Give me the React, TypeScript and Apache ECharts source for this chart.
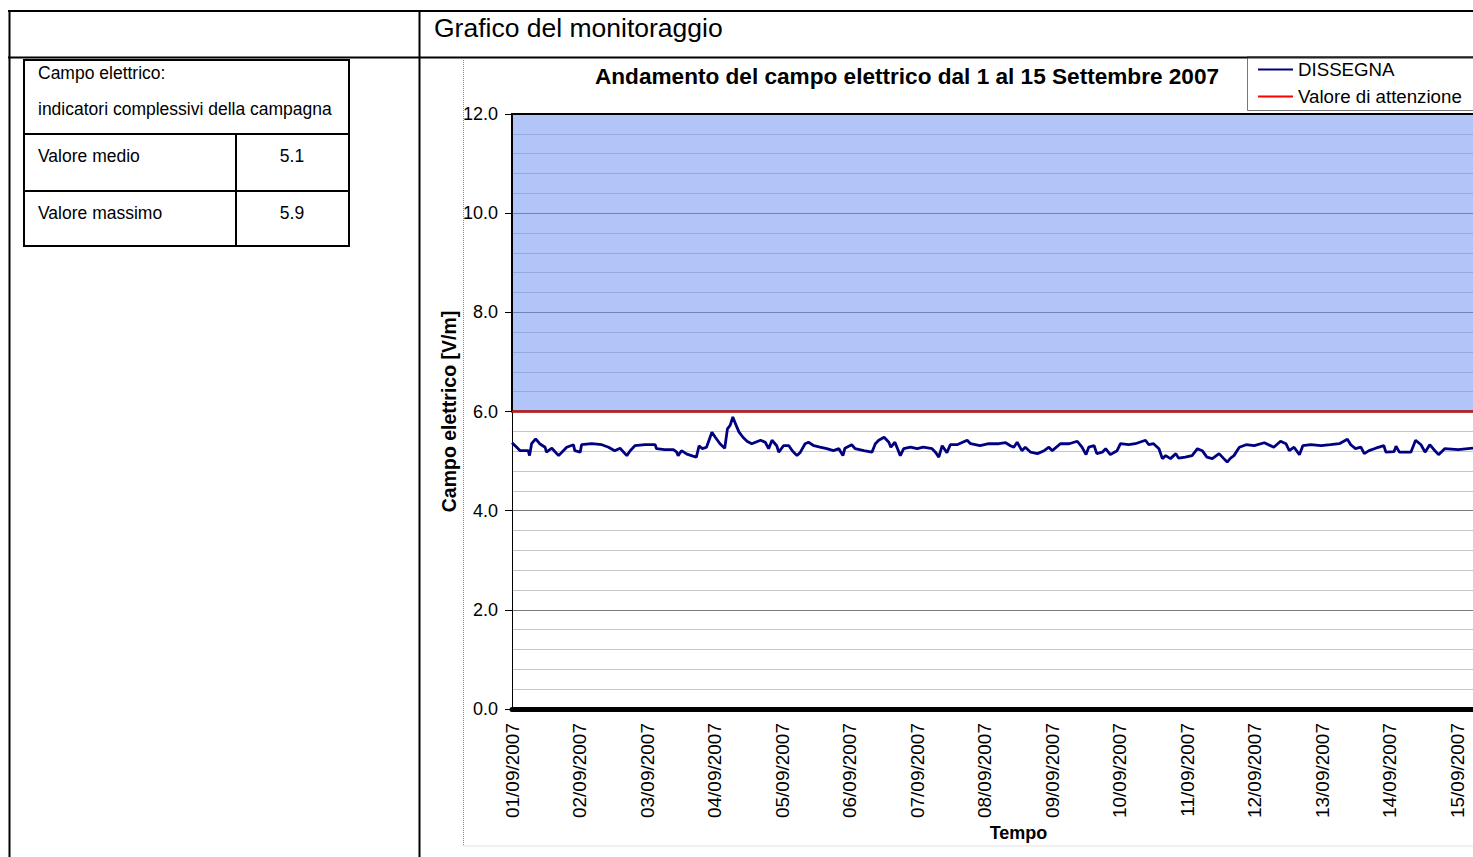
import React, { useEffect, useRef } from "react";
import * as echarts from "echarts";

const dateLabels = [
  "01/09/2007", "02/09/2007", "03/09/2007", "04/09/2007", "05/09/2007",
  "06/09/2007", "07/09/2007", "08/09/2007", "09/09/2007", "10/09/2007",
  "11/09/2007", "12/09/2007", "13/09/2007", "14/09/2007", "15/09/2007",
  "16/09/2007",
];

// time in days from 01/09/2007 00:00
const timeDays = [
  0.00, 0.07, 0.12, 0.24, 0.26, 0.29, 0.35, 0.41, 0.49, 0.51, 0.59, 0.69, 0.76, 0.81, 0.91, 0.93,
  1.01, 1.03, 1.18, 1.33, 1.43, 1.52, 1.60, 1.70, 1.75, 1.82, 1.97,
  2.12, 2.14, 2.26, 2.39, 2.44, 2.46, 2.51, 2.59, 2.68, 2.73, 2.77, 2.82, 2.88, 2.96,
  3.01, 3.08, 3.15, 3.19, 3.23, 3.27, 3.31, 3.36, 3.42, 3.48, 3.55, 3.68, 3.75, 3.80, 3.85, 3.92, 3.95,
  4.02, 4.10, 4.15, 4.22, 4.27, 4.34, 4.39, 4.47, 4.56, 4.66, 4.76, 4.84, 4.90, 4.93,
  5.03, 5.08, 5.21, 5.33, 5.38, 5.43, 5.51, 5.58, 5.61, 5.67, 5.75, 5.80, 5.90,
  6.00, 6.09, 6.22, 6.27, 6.32, 6.37, 6.44, 6.49, 6.59, 6.74, 6.79, 6.93,
  7.06, 7.21, 7.31, 7.38, 7.43, 7.48, 7.55, 7.60, 7.68, 7.78, 7.88, 7.95,
  8.00, 8.12, 8.25, 8.37, 8.44, 8.50, 8.54, 8.62, 8.66, 8.74, 8.79, 8.86, 8.96,
  9.01, 9.13, 9.23, 9.38, 9.43, 9.50, 9.58, 9.63, 9.68, 9.75, 9.83, 9.87, 9.97,
  10.07, 10.15, 10.22, 10.29, 10.37, 10.47, 10.54, 10.59, 10.64, 10.69, 10.77, 10.87, 10.99,
  11.14, 11.28, 11.38, 11.46, 11.51, 11.58, 11.66, 11.71, 11.83, 11.98,
  12.12, 12.25, 12.37, 12.42, 12.49, 12.57, 12.62, 12.69, 12.79, 12.91, 12.94,
  13.06, 13.09, 13.14, 13.31, 13.38, 13.46, 13.52, 13.59, 13.64, 13.72, 13.81,
  14.01, 14.23,
];

const dissegnaValues = [
  5.37, 5.28, 5.21, 5.21, 5.11, 5.35, 5.45, 5.35, 5.28, 5.18, 5.26, 5.11, 5.21, 5.28, 5.33, 5.21,
  5.18, 5.33, 5.35, 5.33, 5.28, 5.21, 5.26, 5.11, 5.21, 5.31, 5.33,
  5.33, 5.25, 5.23, 5.23, 5.18, 5.11, 5.21, 5.14, 5.10, 5.08, 5.31, 5.25, 5.28, 5.58,
  5.48, 5.35, 5.26, 5.65, 5.72, 5.89, 5.75, 5.59, 5.48, 5.40, 5.35, 5.42, 5.38, 5.25, 5.42, 5.31, 5.18,
  5.31, 5.31, 5.21, 5.11, 5.18, 5.35, 5.38, 5.31, 5.28, 5.25, 5.21, 5.25, 5.11, 5.26,
  5.33, 5.25, 5.21, 5.18, 5.35, 5.42, 5.48, 5.38, 5.28, 5.38, 5.11, 5.25, 5.28,
  5.25, 5.28, 5.25, 5.18, 5.08, 5.31, 5.17, 5.33, 5.33, 5.42, 5.35, 5.31,
  5.35, 5.35, 5.37, 5.31, 5.28, 5.38, 5.21, 5.28, 5.18, 5.15, 5.21, 5.28,
  5.21, 5.35, 5.35, 5.40, 5.28, 5.13, 5.28, 5.31, 5.15, 5.18, 5.25, 5.13, 5.21,
  5.35, 5.33, 5.35, 5.42, 5.33, 5.35, 5.25, 5.05, 5.11, 5.05, 5.15, 5.06, 5.08,
  5.11, 5.25, 5.21, 5.08, 5.05, 5.15, 5.05, 4.98, 5.06, 5.11, 5.28, 5.33, 5.31,
  5.37, 5.28, 5.40, 5.35, 5.21, 5.28, 5.13, 5.31, 5.33, 5.31,
  5.33, 5.35, 5.44, 5.33, 5.25, 5.28, 5.15, 5.21, 5.26, 5.31, 5.18,
  5.19, 5.30, 5.18, 5.18, 5.42, 5.33, 5.18, 5.33, 5.25, 5.13, 5.25,
  5.23, 5.26,
];

const attentionValue = 6;
const yMin = 0;
const yMax = 12;
const yInterval = 2;
const dayMax = 15;

const summaryTitle = ["Campo elettrico:", "indicatori complessivi della campagna"];
const summaryLabels = ["Valore medio", "Valore massimo"];
const summaryValues = ["5.1", "5.9"];

const FONT = "'Liberation Sans', Arial, sans-serif";

function hLine(x1: number, x2: number, y: number, w = 2, color = "#000") {
  return { type: "line", silent: true, shape: { x1, y1: y, x2, y2: y }, style: { stroke: color, lineWidth: w } };
}
function vLine(x: number, y1: number, y2: number, w = 2, color = "#000", dash?: number[]) {
  return { type: "line", silent: true, shape: { x1: x, y1, x2: x, y2 }, style: { stroke: color, lineWidth: w, lineDash: dash } };
}
function txt(text: string, x: number, y: number, size: number, align = "left", bold = false) {
  return {
    type: "text",
    silent: true,
    x,
    y,
    style: {
      text,
      fill: "#000",
      font: `${bold ? "bold " : ""}${size}px ${FONT}`,
      textAlign: align,
      textVerticalAlign: "middle",
      align,
      verticalAlign: "middle",
    },
  };
}

export default function App() {
  const ref = useRef<HTMLDivElement>(null);

  useEffect(() => {
    if (!ref.current) return;
    const chart = echarts.init(ref.current, null, { renderer: "svg" });

    const lineData = timeDays.map((d, i) => [d, dissegnaValues[i]]);

    const graphics: any[] = [
      // page table
      hLine(8, 1600, 11),
      hLine(8, 1600, 57.5),
      vLine(9.5, 10, 857),
      vLine(419.5, 10, 857),
      txt("Grafico del monitoraggio", 434, 28, 26.5),
      // summary table
      { type: "rect", silent: true, shape: { x: 24, y: 60, width: 325, height: 186 }, style: { fill: "none", stroke: "#000", lineWidth: 2 } },
      hLine(24, 349, 134),
      hLine(24, 349, 191),
      vLine(236, 134, 246),
      txt(summaryTitle[0], 38, 73, 17.5),
      txt(summaryTitle[1], 38, 109, 17.5),
      txt(summaryLabels[0], 38, 156, 17.5),
      txt(summaryValues[0], 292, 156, 17.5, "center"),
      txt(summaryLabels[1], 38, 213, 17.5),
      txt(summaryValues[1], 292, 213, 17.5, "center"),
      // chart frame
      vLine(463.5, 60, 846, 1, "#888", [1, 1]),
      hLine(463, 1600, 846, 1, "#e2e2e2"),
      // legend box
      { type: "rect", silent: true, shape: { x: 1247.5, y: 57.5, width: 400, height: 53 }, style: { fill: "#fff", stroke: "#777", lineWidth: 1 } },
      hLine(1247, 1600, 57.5, 2, "#222"),
    ];

    chart.setOption({
      animation: false,
      backgroundColor: "#fff",
      title: {
        text: "Andamento del campo elettrico dal 1 al 15 Settembre 2007",
        left: 595,
        top: 65,
        padding: 0,
        textStyle: { fontFamily: FONT, fontSize: 22.6, fontWeight: "bold", color: "#000" },
      },
      legend: {
        left: 1258,
        top: 60,
        padding: 0,
        orient: "vertical",
        itemWidth: 35,
        itemHeight: 2,
        itemGap: 8,
        icon: "rect",
        z: 10,
        textStyle: { fontFamily: FONT, fontSize: 18.7, color: "#000" },
        data: ["DISSEGNA", "Valore di attenzione"],
      },
      graphic: { elements: graphics },
      grid: { left: 512, top: 114, width: 1013, height: 595, containLabel: false },
      xAxis: {
        type: "value",
        min: 0,
        max: dayMax,
        interval: 1,
        offset: 2,
        name: "Tempo",
        nameLocation: "middle",
        nameGap: 113,
        nameMoveOverlap: false,
        nameTextStyle: { fontFamily: FONT, fontSize: 18, fontWeight: "bold", color: "#000" },
        axisLine: { show: true, lineStyle: { color: "#000", width: 5 } },
        axisTick: { show: false },
        splitLine: { show: false },
        axisLabel: {
          rotate: 90,
          margin: 12,
          fontFamily: FONT,
          fontSize: 19,
          color: "#000",
          formatter: (v: number) => dateLabels[Math.round(v)] ?? "",
        },
      },
      yAxis: {
        type: "value",
        min: yMin,
        max: yMax,
        interval: yInterval,
        name: "Campo elettrico [V/m]",
        nameLocation: "middle",
        nameGap: 53,
        nameMoveOverlap: false,
        nameTextStyle: { fontFamily: FONT, fontSize: 19.5, fontWeight: "bold", color: "#000" },
        axisLine: { show: true, lineStyle: { color: "#000", width: 1 } },
        axisTick: { show: true, length: 7, lineStyle: { color: "#000" } },
        axisLabel: {
          margin: 14,
          fontFamily: FONT,
          fontSize: 18,
          color: "#000",
          formatter: (v: number) => v.toFixed(1),
        },
        splitLine: { show: true, lineStyle: { color: "#7a7a7a", width: 1 } },
        minorTick: { show: false, splitNumber: 5 },
        minorSplitLine: { show: true, lineStyle: { color: "#c6c6c6", width: 1 } },
      },
      series: [
        {
          name: "Valore di attenzione",
          type: "line",
          data: [[0, attentionValue], [dayMax, attentionValue]],
          showSymbol: false,
          color: "#ff0000",
          lineStyle: { color: "#ff0000", width: 2 },
          z: 4,
          markArea: {
            silent: true,
            itemStyle: {
              color: "rgba(100, 140, 242, 0.5)",
              borderColor: "#000",
              borderWidth: 2,
            },
            data: [[{ yAxis: attentionValue }, { yAxis: yMax }]],
          },
        },
        {
          name: "DISSEGNA",
          type: "line",
          data: lineData,
          showSymbol: false,
          color: "#000080",
          lineStyle: { color: "#000080", width: 2.8 },
          z: 5,
        },
      ],
    });

    return () => chart.dispose();
  }, []);

  return (
    <div
      style={{
        position: "absolute",
        left: 0,
        top: 0,
        width: 1473,
        height: 857,
        overflow: "hidden",
        background: "#fff",
      }}
    >
      <div ref={ref} style={{ width: 1600, height: 857 }} />
    </div>
  );
}
